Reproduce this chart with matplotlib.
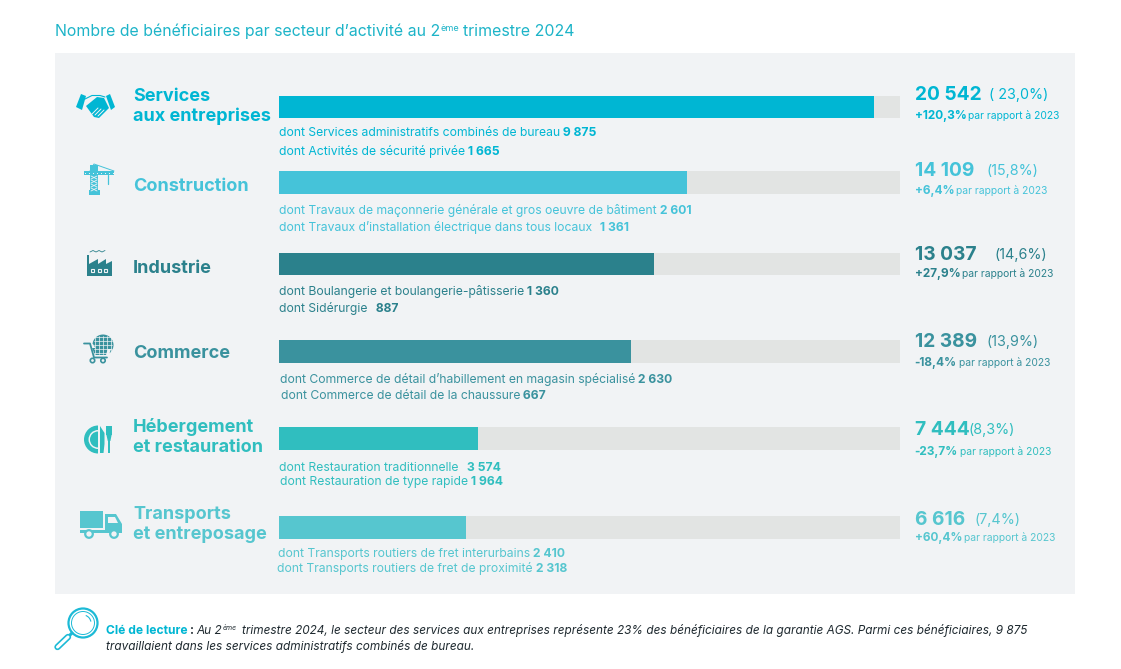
import matplotlib
matplotlib.use('Agg')
import matplotlib.pyplot as plt
from matplotlib.patches import Rectangle, Polygon, Circle, Wedge, Arc

plt.rcParams['font.family'] = ['Inter', 'DejaVu Sans']

# Data
categories = [['Services', 'aux entreprises'], ['Construction'], ['Industrie'], ['Commerce'],
              ['Hébergement', 'et restauration'], ['Transports', 'et entreposage']]
totals = [20542, 14109, 13037, 12389, 7444, 6616]
shares = ['( 23,0%)', '(15,8%)', '(14,6%)', '(13,9%)', '(8,3%)', '(7,4%)']
evolutions = ['+120,3%', '+6,4%', '+27,9%', '-18,4%', '-23,7%', '+60,4%']
# length of the coloured bar as % of the grey track, as drawn in the picture
bar_fill = [95.8, 65.7, 60.4, 56.7, 32.0, 30.1]
sub_labels = [
    ['dont Services administratifs combinés de bureau', 'dont Activités de sécurité privée'],
    ['dont Travaux de maçonnerie générale et gros oeuvre de bâtiment', 'dont Travaux d\u2019installation électrique dans tous locaux '],
    ['dont Boulangerie et boulangerie-pâtisserie', 'dont Sidérurgie '],
    ['dont Commerce de détail d\u2019habillement en magasin spécialisé', 'dont Commerce de détail de la chaussure'],
    ['dont Restauration traditionnelle ', 'dont Restauration de type rapide'],
    ['dont Transports routiers de fret interurbains', 'dont Transports routiers de fret de proximité'],
]
sub_values = [[9875, 1665], [2601, 1361], [1360, 887], [2630, 667], [3574, 1964], [2410, 2318]]

# Layout (pixels of the reference)
colors = ['#00B6D3', '#45C3D9', '#2B818C', '#3A929E', '#30BEBF', '#56C6CF']
bar_top = [96, 171, 253, 340, 427, 516]
bar_bottom = [118, 194, 275, 363, 450, 539]
cat_base = [[101, 121], [191], [273], [358], [432, 452], [519, 539]]
sub_base = [[136, 155], [214, 231], [295, 312], [383, 399], [471, 485], [557, 572]]
sub_x = [[279, 279], [279, 279], [279, 279], [280, 281], [279, 280], [278, 277]]
num_base = [100, 176, 260, 347, 435, 525]
evo_base = [119, 194, 277, 366, 455, 541]
pct_x = [989, 987, 994, 987, 968, 974]

W, H = 1121, 669
fig = plt.figure(figsize=(W / 100, H / 100), dpi=100)
fig.patch.set_facecolor('white')

# page axes in pixel coordinates, y going down
page = fig.add_axes([0, 0, 1, 1])
page.set_xlim(0, W)
page.set_ylim(H, 0)
page.axis('off')
page.add_patch(Rectangle((55, 53), 1020, 541, fc='#F1F3F5', ec='none'))

# bars
ax = fig.add_axes([279 / W, 0, 621 / W, 1])
ax.set_xlim(0, 100)
ax.set_ylim(H, 0)
ax.axis('off')
ax.patch.set_alpha(0)
for i in range(6):
    mid = (bar_top[i] + bar_bottom[i]) / 2
    h = bar_bottom[i] - bar_top[i]
    ax.barh(mid, 100, height=h, color='#E2E4E3')
    ax.barh(mid, bar_fill[i], height=h, color=colors[i])

renderer = fig.canvas.get_renderer()


def fmt(n):
    s = str(n)
    if len(s) > 3:
        return s[:-3] + ' ' + s[-3:]
    return s


def write(x, y, parts, color, size, **kw):
    # parts: list of (text, weight) written one after the other from x
    for txt, weight in parts:
        t = page.text(x, y, txt, color=color, fontsize=size, fontweight=weight,
                      ha='left', va='baseline', **kw)
        x = page.transData.inverted().transform(
            t.get_window_extent(renderer).corners()[3])[0]
        if txt.endswith(' '):
            x += size * 0.2
    return x


# title
tc = '#1DB4C8'
x = write(55, 36, [('Nombre de bénéficiaires par secteur d\u2019activité au 2', 'normal')], tc, 11.45)
x = write(x, 31, [('ème', 'normal')], tc, 6.5)
write(x + 4, 36, [('trimestre 2024', 'normal')], tc, 11.45)

for i in range(6):
    c = colors[i]
    for line_txt, y in zip(categories[i], cat_base[i]):
        write(133, y, [(line_txt, 'bold')], c, 13.0)
    for j in range(2):
        write(sub_x[i][j], sub_base[i][j],
              [(sub_labels[i][j], 'normal'), (' ' + fmt(sub_values[i][j]), 'bold')], c, 8.75)
    write(915, num_base[i], [(fmt(totals[i]), 'bold')], c, 13.8)
    write(pct_x[i], num_base[i] - 1, [(shares[i], 'normal')], c, 10.3)
    x = write(914.5, evo_base[i], [(evolutions[i], 'bold')], c, 8.5)
    write(x + 2, evo_base[i], [('par rapport à 2023', 'normal')], c, 7.4)

# reading key
dark = '#1F2A30'
x = write(106, 634, [('Clé de lecture', 'bold')], '#00B6D3', 8.7)
x = write(x + 2, 634, [(':', 'bold')], dark, 8.7)
x = write(x + 3, 634, [('Au 2', 'normal')], dark, 8.5, style='italic')
x = write(x, 630, [('ème', 'normal')], dark, 5, style='italic')
write(x + 5, 634, [('trimestre 2024, le secteur des services aux entreprises représente 23% des bénéficiaires de la garantie AGS. Parmi ces bénéficiaires, 9 875', 'normal')],
      dark, 8.49, style='italic')
write(106, 650, [('travaillaient dans les services administratifs combinés de bureau.', 'normal')],
      dark, 8.5, style='italic')


# icons
def poly(pts, c, **kw):
    page.add_patch(Polygon(pts, closed=True, fc=c, ec='none', **kw))


def rect(x, y, w, h, c):
    page.add_patch(Rectangle((x, y), w, h, fc=c, ec='none'))


def line(xs, ys, c, lw=1.0):
    page.plot(xs, ys, color=c, lw=lw, solid_capstyle='round')


bg = '#F1F3F5'

# handshake
c = colors[0]
poly([(76, 107), (81, 94), (86, 96), (82, 110)], c)
poly([(106, 96), (110, 94), (115, 107), (111, 110)], c)
poly([(86, 106), (97, 97), (104, 98), (109, 108), (99, 118), (94, 117)], c)
line([85, 92, 100, 105], [99, 95.5, 95.5, 97], c, 0.8)
for k in range(3):
    line([98 + k * 3, 92 + k * 3], [108 + k, 114 + k], bg, 0.7)

# crane
c = colors[1]
rect(90, 165, 8, 26, c)
rect(84, 171, 30, 4, c)
line([90, 94, 114], [171, 164, 171], c, 0.7)
rect(89, 190, 11, 5, c)
line([108, 108], [175, 184], c, 0.9)
for y in range(176, 190, 4):
    line([91, 97], [y, y + 3], bg, 0.6)
    line([97, 91], [y, y + 3], bg, 0.6)
for k in range(85, 114, 4):
    rect(k, 172.5, 1.4, 1.2, bg)

# factory
c = colors[2]
poly([(87, 255), (89, 255), (89, 264), (98, 259), (98, 264), (106, 259), (106, 264), (112, 261),
      (112, 276), (87, 276)], c)
for k in range(3):
    page.add_patch(Rectangle((91 + k * 6.5, 268.5), 3, 3, fc='none', ec=bg, lw=0.8))
line([90, 93, 96, 99, 102, 105], [252, 250.5, 252, 250.5, 252, 250.5], c, 0.6)

# cart with globe
c = colors[3]
page.add_patch(Circle((103, 345), 10.5, fc=c, ec='none'))
for k in range(-2, 3):
    line([103 + k * 4, 103 + k * 4], [336, 354], bg, 0.5)
    line([94, 112], [345 + k * 4, 345 + k * 4], bg, 0.5)
poly([(87, 344), (93, 344), (96, 349), (111, 349), (108, 358), (95, 358)], bg)
poly([(92, 348), (108, 348), (106, 355), (95, 355)], c)
line([84, 90, 94, 107], [343.5, 343.5, 357.5, 357.5], c, 1.3)
page.add_patch(Circle((92.5, 360.5), 2.2, fc=bg, ec=c, lw=1.2))
page.add_patch(Circle((103, 360.5), 2.2, fc=bg, ec=c, lw=1.2))

# plate, knife and fork
c = colors[4]
page.add_patch(Wedge((98, 439.5), 14, 90, 270, width=4.5, fc=c, ec='none'))
page.add_patch(Wedge((98, 439.5), 8, 90, 270, fc=c, ec='none'))
poly([(100, 426), (104.5, 433), (104.5, 444), (103.5, 453), (100, 453)], c)
rect(107.8, 439, 2.6, 14, c)
rect(106, 426, 6, 9, c)
poly([(106, 433), (112, 433), (110.4, 441), (107.8, 441)], c)
for k in (107.6, 109.8):
    rect(k, 426, 0.6, 7, bg)

# truck
c = colors[5]
rect(80, 511, 23, 17, c)
poly([(105, 514), (116, 514), (122, 524), (122, 531), (105, 531)], c)
poly([(108, 517), (115, 517), (118, 523), (108, 523)], bg)
rect(80, 530, 42, 2.5, c)
for cx in (89, 114):
    page.add_patch(Circle((cx, 534), 3.8, fc=bg, ec=c, lw=1.6))

# magnifying glass
c = '#1CBAD6'
page.add_patch(Circle((83, 623), 14.5, fc='none', ec=c, lw=1.6))
page.add_patch(Circle((83, 623), 11.5, fc='none', ec=c, lw=0.7))
page.add_patch(Arc((83, 623), 16, 16, theta1=-70, theta2=-10, color=c, lw=0.8))
line([72, 69], [633, 636], c, 2.2)
line([68, 57.5], [637, 647], c, 4.6)
line([68, 57.5], [637, 647], 'white', 2.2)

fig.savefig('out.png', dpi=100, facecolor='white')
